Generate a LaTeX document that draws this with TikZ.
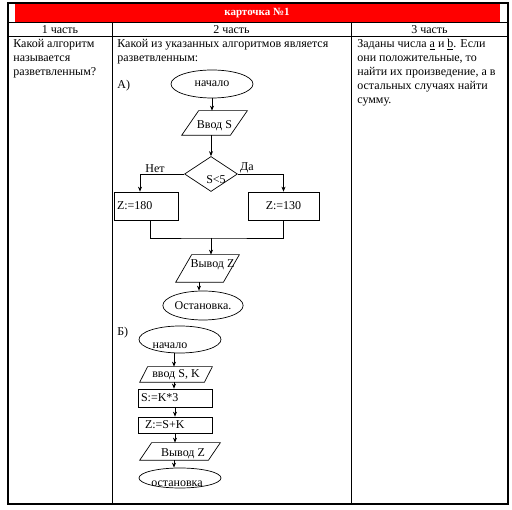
\documentclass[tikz,border=0pt]{standalone}
\usepackage{fontspec}
\setmainfont{Liberation Serif}
\usetikzlibrary{shapes.geometric, arrows.meta, positioning, calc}
\tikzstyle{term}   = [ellipse, draw, inner sep=0pt]
\tikzstyle{proc}   = [rectangle, draw, inner sep=3pt]
\tikzstyle{iobox}  = [rectangle, inner sep=1pt]
\tikzstyle{decide} = [diamond, draw, inner sep=0pt]
\tikzstyle{cell}   = [anchor=north west, inner sep=0pt, align=left]
\tikzstyle{arrow}  = [->, >={Stealth[length=5pt,width=4pt]}]
% parallelogram round an iobox node: #1 node, #2 slant
\newcommand{\iodraw}[2]{\draw ([xshift=#2]#1.north west) -- (#1.north east)
  -- ([xshift=-#2]#1.south east) -- (#1.south west) -- cycle;}

\begin{document}
\begin{tikzpicture}[x=1pt, y=-1pt, line width=0.7pt,
                    every node/.style={font=\fontsize{12}{14}\selectfont}]
  \useasboundingbox (0,0) rectangle (512,510);

  % --- table ---
  \fill[red] (15,4) rectangle (500,22);
  \node (title) [text=white, font=\bfseries\fontsize{11}{13}\selectfont] at (257,13) {карточка №1};
  \draw[line width=1.3pt] (8,3) rectangle (508,504);
  \draw (8,22) -- (508,22);
  \draw (8,36) -- (508,36);
  \draw (112,22) -- (112,504);
  \draw (351,22) -- (351,504);

  \node (h1) at (60,29.5)    {1 часть};
  \node (h2) at (231.5,29.5) {2 часть};
  \node (h3) at (429.5,29.5) {3 часть};

  \node (q1) [cell] at (13,39)  {Какой алгоритм\\называется\\разветвленным?};
  \node (q2) [cell] at (117,39) {Какой из указанных алгоритмов является\\разветвленным:};
  \node (q3) [cell] at (357,39) {Заданы числа \underline{a} и \underline{b}. Если\\они положительные, то\\найти их произведение, а в\\остальных случаях найти\\сумму.};

  \node (la) [anchor=west, inner sep=0pt] at (117,86)  {А)};
  \node (lb) [anchor=west, inner sep=0pt] at (117,333) {Б)};

  % --- A) ---
  \node (startA) [term, minimum width=82pt, minimum height=28pt] at (212,84) {начало};
  \node (inS)    [iobox, minimum width=65pt, minimum height=24pt,
                  label={[yshift=-3pt]center:Ввод S}] at (214.5,123) {};
  \iodraw{inS}{17pt}
  \node (check)  [decide, minimum width=53pt, minimum height=35pt,
                  label={[xshift=5pt,yshift=-6pt]center:S<5}] at (211,174) {};
  \node (z180)   [proc, text width=58pt, align=left, minimum height=28pt] at (146,206) {Z:=180};
  \node (z130)   [proc, minimum width=71pt, minimum height=28pt] at (283.5,206) {Z:=130};
  \node (outZ)   [iobox, minimum width=63pt, minimum height=27pt,
                  label={[xshift=5pt,yshift=4pt]center:Вывод Z}] at (207.5,268.5) {};
  \iodraw{outZ}{16pt}
  \node (stopA)  [term, minimum width=72pt, minimum height=29pt] at (203,305.5) {Остановка.};
  \coordinate (join) at (211,238);

  \draw[arrow] (startA.south) -- (startA.south |- inS.north);
  \draw[arrow] (check.north |- inS.south) -- (check.north);
  \draw[arrow] (check.west) -| node[pos=0.33, above, inner sep=1pt]{Нет} ([xshift=-6pt]z180.north);
  \draw[arrow] (check.east) -| node[pos=0.1, above, inner sep=1pt]{Да} (z130.north);
  \draw ([xshift=4pt]z180.south) |- (join) -| (z130.south);
  \draw[arrow] (join) -- (join |- outZ.north);
  \draw[arrow] ([xshift=-4pt]stopA.north |- outZ.south) -- ([xshift=-4pt]stopA.north);

  % --- Б) ---
  \node (startB) [term, minimum width=82pt, minimum height=27pt,
                  label={[xshift=-10pt,yshift=-6pt]center:начало}] at (180,339.5) {};
  \node (inSK)   [iobox, minimum width=72pt, minimum height=15pt] at (176,374.5) {ввод S, K};
  \iodraw{inSK}{8pt}
  \node (s3)     [proc, text width=68pt, align=left, inner ysep=1pt, minimum height=18pt] at (175,398) {S:=K*3};
  \node (zsk)    [proc, inner xsep=7pt, text width=60pt, align=left, inner ysep=1pt,
                  minimum height=16pt] at (175,425) {Z:=S+K};
  \node (outZ2)  [iobox, minimum width=80pt, minimum height=17pt,
                  label={[xshift=3pt,yshift=-2pt]center:Вывод Z}] at (180,451.5) {};
  \iodraw{outZ2}{12pt}
  \node (stopB)  [term, minimum width=82pt, minimum height=20pt,
                  label={[xshift=-3pt,yshift=-6pt]center:остановка}] at (180,478) {};

  \draw[arrow] ([xshift=-6pt]startB.south) -- ([xshift=-6pt]startB.south |- inSK.north);
  \draw[arrow] ([xshift=-2pt]inSK.south) -- ([xshift=-2pt]inSK.south |- s3.north);
  \draw[arrow] (s3.south) -- (zsk.north);
  \draw[arrow] (zsk.south) -- (zsk.south |- outZ2.north);
  \draw[arrow] ([xshift=-6pt]outZ2.south) -- ([xshift=-6pt]outZ2.south |- stopB.north);

\end{tikzpicture}
\end{document}
